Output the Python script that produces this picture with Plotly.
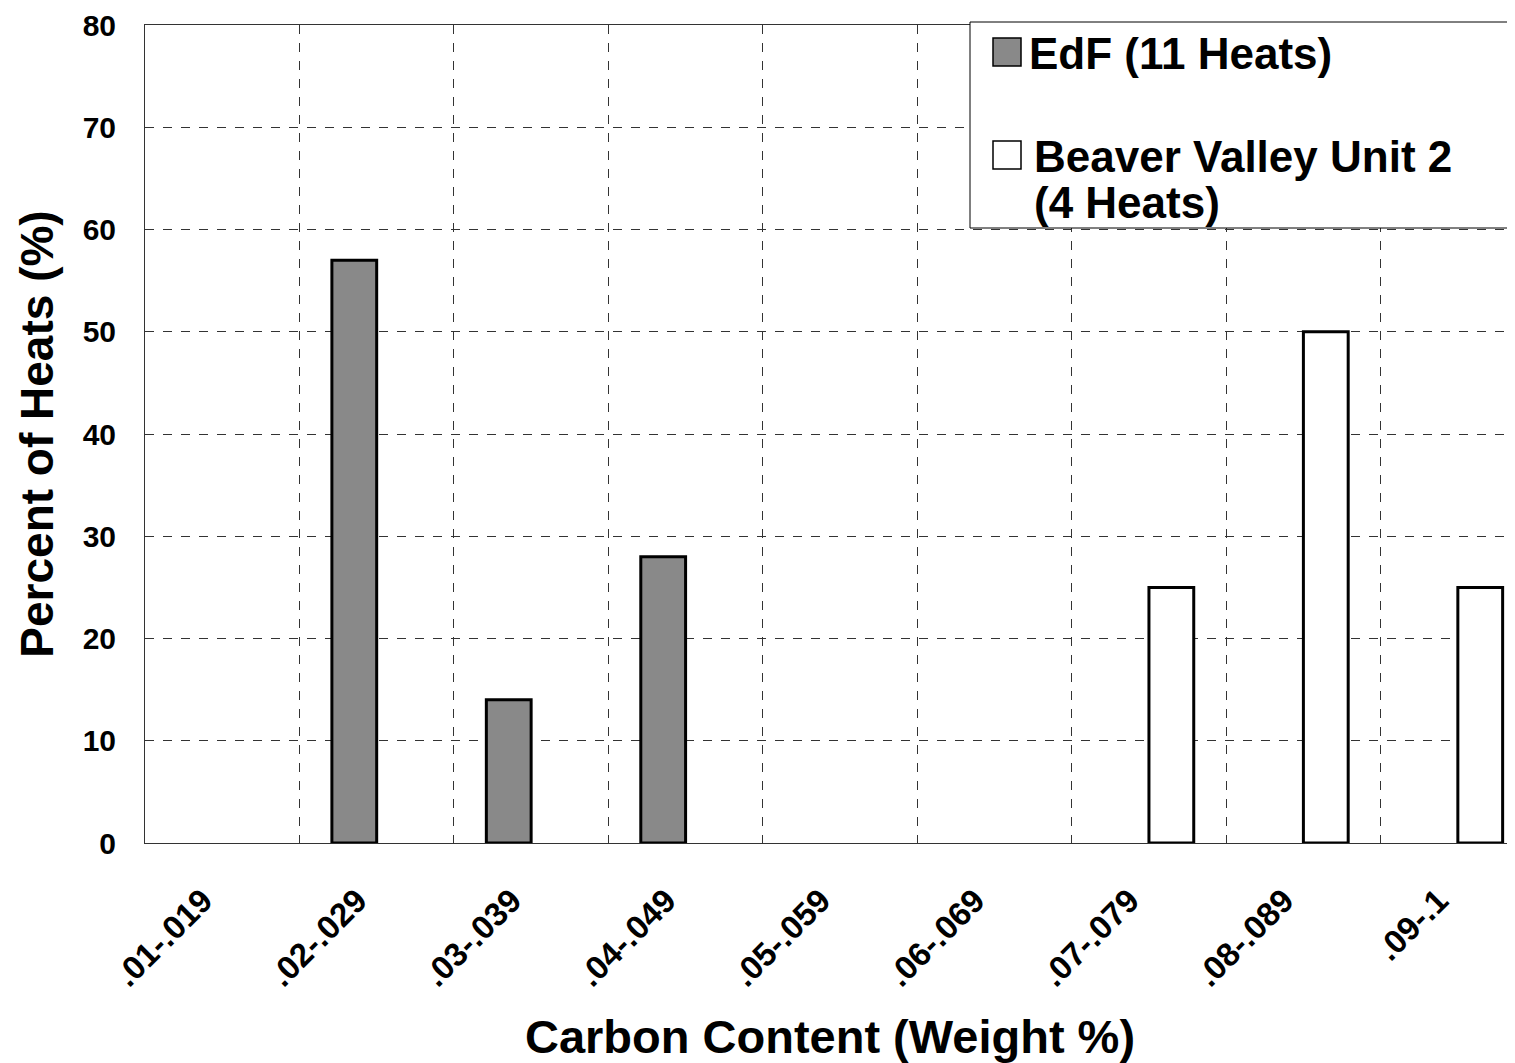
import plotly.graph_objects as go

categories = ['.01-.019', '.02-.029', '.03-.039', '.04-.049', '.05-.059',
              '.06-.069', '.07-.079', '.08-.089', '.09-.1']
edf_values = [0, 57, 14, 28, 0, 0, 0, 0, 0]
bv_values = [0, 0, 0, 0, 0, 0, 25, 50, 25]
y_ticks = [0, 10, 20, 30, 40, 50, 60, 70, 80]
series_names = ["EdF (11 Heats)", "Beaver Valley Unit 2", "(4 Heats)"]

FONT = "Liberation Sans, Arial, sans-serif"
EDF_COLOR = "#898989"
BV_COLOR = "white"
BAR_LINE = 3

x_pos = list(range(len(categories)))


def line_widths(vals):
    return [BAR_LINE if v else 0 for v in vals]


fig = go.Figure()
fig.add_trace(go.Bar(
    x=x_pos, y=edf_values, name=series_names[0], showlegend=False,
    customdata=categories,
    marker=dict(color=EDF_COLOR,
                line=dict(color="black", width=line_widths(edf_values))),
))
fig.add_trace(go.Bar(
    x=x_pos, y=bv_values, name=series_names[1] + " " + series_names[2],
    showlegend=False, customdata=categories,
    marker=dict(color=BV_COLOR,
                line=dict(color="black", width=line_widths(bv_values))),
))

# page offset of 8px (browser body margin) compensated in margins
fig.update_layout(
    width=1507, height=1055,
    margin=dict(l=137, r=0, t=17, b=220),
    paper_bgcolor="white", plot_bgcolor="white",
    barmode="group", bargap=0.42, bargroupgap=0,
    font=dict(family=FONT, color="black"),
    showlegend=False,
)


# legend box drawn manually (large swatches like the original)
def px_x(page_x):
    return (page_x - 145) / 1370.0


def px_y(page_y):
    return (843 - page_y) / 818.0


fig.add_shape(type="rect", xref="paper", yref="paper",
              x0=px_x(970), x1=px_x(1530), y0=px_y(228), y1=px_y(22),
              line=dict(color="black", width=1), fillcolor="white", layer="above")
fig.add_shape(type="rect", xref="paper", yref="paper",
              x0=px_x(993), x1=px_x(1021), y0=px_y(66), y1=px_y(38),
              line=dict(color="black", width=1.5), fillcolor=EDF_COLOR, layer="above")
fig.add_shape(type="rect", xref="paper", yref="paper",
              x0=px_x(993), x1=px_x(1021), y0=px_y(169), y1=px_y(141),
              line=dict(color="black", width=1.5), fillcolor=BV_COLOR, layer="above")
legend_font = dict(family=FONT, size=44, weight="bold", color="black")
for txt, x, y in [(series_names[0], 1027, 54),
                  (series_names[1], 1032, 156),
                  (series_names[2], 1032, 202)]:
    fig.add_annotation(text=txt, xref="paper", yref="paper",
                       x=px_x(x), y=px_y(y), xanchor="left", yanchor="middle",
                       showarrow=False, font=legend_font)

label_shift = 0.125  # rotated labels end slightly left of the category centre
fig.update_xaxes(
    range=[-0.5, 8.37],
    tickmode="array",
    tickvals=[p - label_shift for p in x_pos], ticktext=categories,
    ticks="", tickangle=-45, tickfont=dict(size=33, weight="bold"),
    ticklabelstandoff=24,
    showgrid=False, zeroline=False,
    minor=dict(tickmode="array",
               tickvals=[p + 0.5 for p in [-1] + x_pos],
               ticks="", showgrid=True, gridcolor="#333",
               griddash="dash", gridwidth=1),
    showline=True, linecolor="#333", linewidth=1, mirror=True,
    title=dict(text="Carbon Content (Weight %)",
               font=dict(size=47, weight="bold"), standoff=30),
)
fig.update_yaxes(
    range=[0, 80], tickvals=y_ticks, ticks="",
    tickfont=dict(size=30, weight="bold"),
    ticklabelstandoff=22,
    showgrid=True, gridcolor="#333", griddash="dash", gridwidth=1,
    zeroline=False,
    showline=True, linecolor="#333", linewidth=1,
    title=dict(text="Percent of Heats (%)",
               font=dict(size=46, weight="bold"), standoff=14),
)

fig.write_html("out.html")
